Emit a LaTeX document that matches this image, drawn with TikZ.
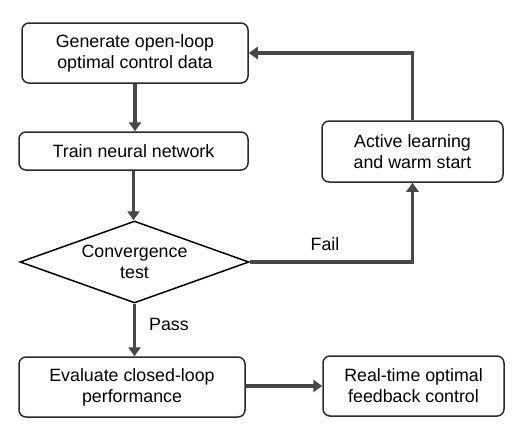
\documentclass[tikz,border=0pt]{standalone}
\usepackage{fontspec}
\setmainfont{Liberation Sans}
\usetikzlibrary{shapes.geometric,arrows.meta}
\definecolor{arrowgray}{HTML}{474747}
\definecolor{edgegray}{HTML}{2B2B2B}

\begin{document}
\begin{tikzpicture}[x=1pt, y=-1pt,
    proc/.style={draw=edgegray, line width=1.5pt, rounded corners=7pt, fill=white,
        align=center, font=\fontsize{17.8}{21}\selectfont, inner sep=0pt},
    test/.style={draw=black, line width=1.5pt, diamond, aspect=2.79, align=center,
        minimum width=229pt, minimum height=82pt, inner sep=0pt,
        font=\fontsize{17.8}{21}\selectfont},
    link/.style={draw=arrowgray, line width=3.6pt, -{Triangle[width=12pt,length=9pt]}},
    tag/.style={font=\fontsize{17.8}{21}\selectfont}]
    \useasboundingbox (0,0) rectangle (525,439);
    % main column
    \node[proc, minimum width=226pt, minimum height=60pt] (gen) at (135,53) {Generate open-loop\\optimal control data};
    \node[proc, minimum width=229pt, minimum height=38pt] (train) at (133.5,151) {Train neural network};
    \node[test] (conv) at (134.5,262) {Convergence\\test};
    \node[proc, minimum width=226pt, minimum height=60pt] (eval) at (132,387) {Evaluate closed-loop\\performance};
    % right column
    \node[proc, minimum width=181pt, minimum height=60pt] (rt) at (413.5,386) {Real-time optimal\\feedback control};
    \node[proc, minimum width=181pt, minimum height=61pt] (active) at (412.5,151.5) {Active learning\\and warm start};
    % connectors
    \draw[link] (gen) -- (gen |- train.north);
    \draw[link] (train) -- (train |- conv.north);
    \draw[link] (conv) -- (conv |- eval.north);
    \draw[link] (eval.east |- rt.west) -- (rt.west);
    \draw[link] (conv.east) -| (active.south);
    \draw[link] (active.north) |- (gen.east);
    \node[tag] (fail) at (325,244) {Fail};
    \node[tag] (pass) at (169,324) {Pass};
\end{tikzpicture}
\end{document}
